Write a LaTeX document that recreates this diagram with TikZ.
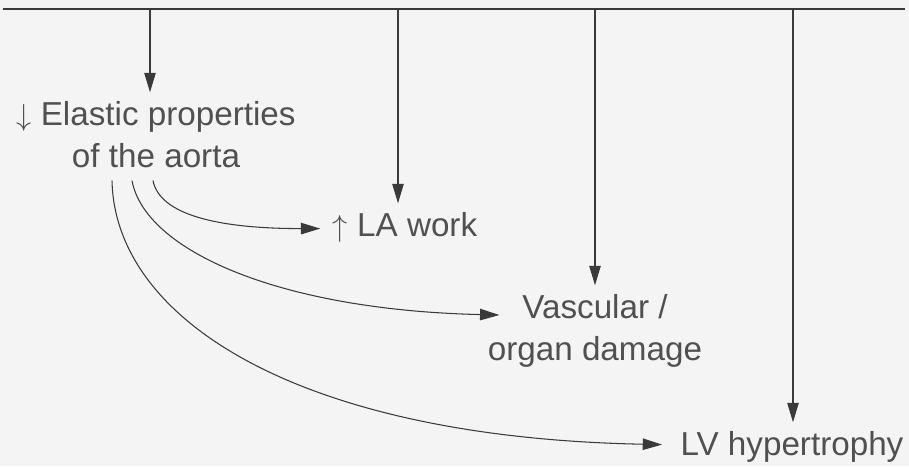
\documentclass[tikz,border=0pt]{standalone}
\usepackage{fontspec}
\setmainfont{Liberation Sans}
\usepackage{tikz}
\usetikzlibrary{arrows.meta, positioning}
\definecolor{inkline}{HTML}{3A3A3A}
\definecolor{inktext}{HTML}{505050}
\definecolor{paper}{HTML}{F4F4F4}

\begin{document}
\begin{tikzpicture}[>={Triangle[length=11pt,width=6.5pt]}, line width=0.6pt, color=inkline,
  font=\fontsize{18.9}{24}\selectfont,
  effect/.style={inner sep=0pt, text=inktext, align=center}]
  \fill[paper] (0,0) rectangle (18.18,9.32);
  \useasboundingbox (0,0) rectangle (18.18,9.32);
  % top bar
  \draw[line width=1.3pt] (0.06,9.14) -- (18.10,9.14);
  \coordinate (t1) at (3.00,9.14);
  \coordinate (t2) at (7.96,9.14);
  \coordinate (t3) at (11.90,9.14);
  \coordinate (t4) at (15.86,9.14);
  % effects
  \node[effect, anchor=north] (elastic) at (3.12,7.30) {$\downarrow$ Elastic properties\\of the aorta};
  \node[effect, anchor=north] (lawork) at (8.10,5.08) {$\uparrow$ LA work};
  \node[effect, anchor=north] (vascular) at (11.90,3.44) {Vascular /\\organ damage};
  \node[effect, anchor=north] (lvhyp) at (15.84,0.70) {LV hypertrophy};
  % from the top bar
  \draw[->, shorten >=5pt] (t1) -- (t1 |- elastic.north);
  \draw[->, shorten >=5pt] (t2) -- (t2 |- lawork.north);
  \draw[->, shorten >=5pt] (t3) -- (t3 |- vascular.north);
  \draw[->, shorten >=5pt] (t4) -- (t4 |- lvhyp.north);
  % from the aorta
  \draw[->] ([shift={(-0.06,-0.24)}]elastic.south) .. controls +(0.14,-0.70) and +(-2.0,0) .. ([shift={(-0.24,0.16)}]lawork.base west);
  \draw[->] ([shift={(-0.48,-0.24)}]elastic.south) .. controls +(0.26,-1.40) and +(-4.4,0.10) .. ([shift={(0.24,-0.42)}]vascular.north west);
  \draw[->] ([shift={(-0.88,-0.24)}]elastic.south) .. controls +(0.06,-2.80) and +(-7.24,0.14) .. ([shift={(-0.36,0.22)}]lvhyp.base west);
\end{tikzpicture}
\end{document}
